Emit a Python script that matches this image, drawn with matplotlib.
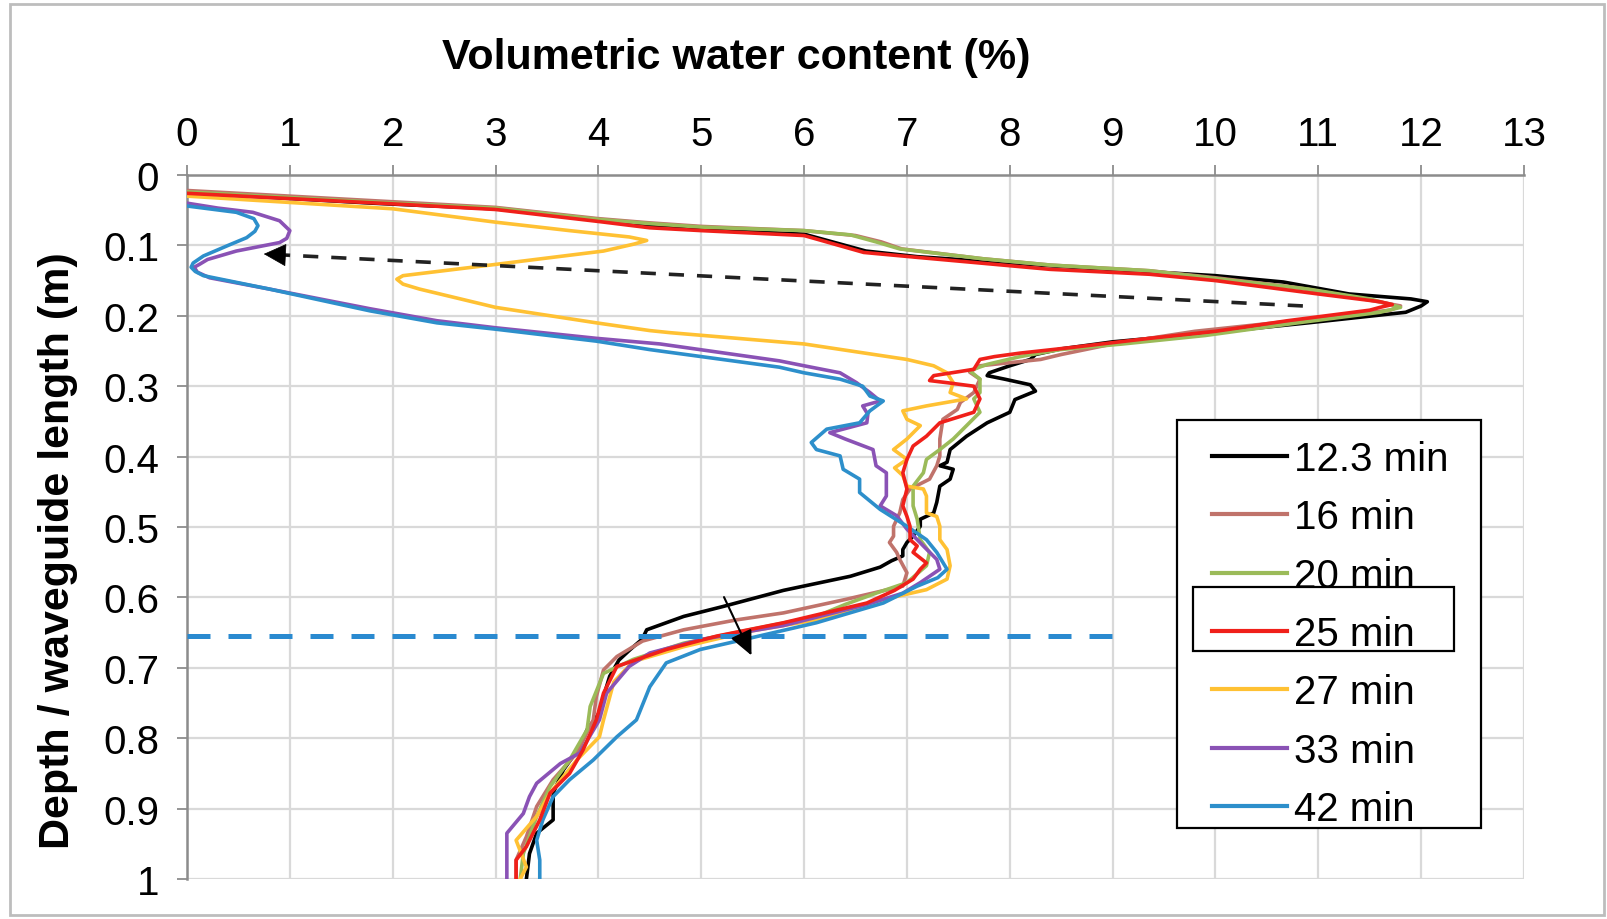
import matplotlib
matplotlib.use("Agg")
import matplotlib.pyplot as plt
from matplotlib.patches import Rectangle
from matplotlib.lines import Line2D

plt.rcParams['font.family'] = ['Liberation Sans', 'DejaVu Sans']

# ---- data: volumetric water content (%) versus depth / waveguide length (m) ----
series_labels = ["12.3 min", "16 min", "20 min", "25 min", "27 min", "33 min", "42 min"]
series_colors = ["#000000", "#C0736B", "#9BBB59", "#F0201A", "#FFC133", "#8A52B5", "#2D8FCB"]

depth_12 = [0.025, 0.04, 0.048, 0.064, 0.072, 0.077, 0.084, 0.108, 0.116, 0.129, 0.143, 0.152,
            0.169, 0.176, 0.180, 0.186, 0.195, 0.21, 0.225, 0.237, 0.247, 0.255, 0.262, 0.271,
            0.281, 0.285, 0.29, 0.298, 0.307, 0.319, 0.33, 0.337, 0.352, 0.371, 0.39, 0.408,
            0.413, 0.418, 0.432, 0.442, 0.465, 0.48, 0.489, 0.499, 0.513, 0.522, 0.532, 0.541,
            0.548, 0.557, 0.57, 0.59, 0.613, 0.627, 0.646, 0.652, 0.66, 0.674, 0.689, 0.712,
            0.741, 0.764, 0.788, 0.812, 0.845, 0.878, 0.916, 0.935, 0.964, 1.0]
vwc_12 = [0.0, 1.8, 3.0, 4.0, 4.5, 5.0, 6.0, 6.6, 7.1, 8.4, 10.0, 10.66,
          11.3, 11.9, 12.06, 12.0, 11.85, 10.9, 9.9, 9.0, 8.5, 8.25, 8.2, 8.0,
          7.8, 7.78, 7.95, 8.2, 8.25, 8.05, 8.02, 8.0, 7.78, 7.58, 7.42, 7.39,
          7.32, 7.45, 7.42, 7.32, 7.29, 7.26, 7.13, 7.13, 7.06, 7.0, 6.96, 6.96,
          6.85, 6.74, 6.45, 5.8, 5.21, 4.83, 4.47, 4.45, 4.42, 4.31, 4.2, 4.11,
          4.05, 4.01, 3.89, 3.82, 3.66, 3.56, 3.56, 3.40, 3.33, 3.30]

depth_16 = [0.022, 0.038, 0.046, 0.062, 0.068, 0.073, 0.079, 0.086, 0.095, 0.105, 0.119, 0.128,
            0.136, 0.146, 0.16, 0.175, 0.186, 0.192, 0.205, 0.222, 0.24, 0.255, 0.262, 0.271,
            0.28, 0.29, 0.309, 0.323, 0.333, 0.347, 0.375, 0.399, 0.413, 0.432, 0.446, 0.461,
            0.48, 0.499, 0.513, 0.522, 0.536, 0.546, 0.565, 0.584, 0.603, 0.622, 0.632, 0.646,
            0.662, 0.684, 0.703, 0.741, 0.774, 0.821, 0.859, 0.897, 0.94, 0.973, 1.0]
vwc_16 = [0.0, 2.0, 3.0, 4.0, 4.5, 5.0, 6.0, 6.5, 6.75, 6.95, 7.74, 8.4,
          9.36, 10.0, 10.8, 11.4, 11.8, 11.7, 10.9, 9.8, 9.0, 8.5, 8.3, 7.71,
          7.61, 7.71, 7.65, 7.52, 7.49, 7.35, 7.32, 7.32, 7.29, 7.22, 7.03, 6.96,
          6.93, 6.87, 6.87, 6.83, 6.9, 6.93, 7.0, 6.96, 6.4, 5.8, 5.34, 4.83,
          4.43, 4.18, 4.05, 3.98, 3.95, 3.79, 3.56, 3.40, 3.30, 3.20, 3.20]

depth_20 = [0.024, 0.04, 0.047, 0.063, 0.069, 0.074, 0.079, 0.085, 0.095, 0.105, 0.119, 0.128,
            0.136, 0.147, 0.162, 0.176, 0.188, 0.195, 0.21, 0.228, 0.24, 0.248, 0.258, 0.269,
            0.278, 0.29, 0.309, 0.318, 0.337, 0.356, 0.375, 0.39, 0.404, 0.423, 0.442, 0.47,
            0.489, 0.518, 0.536, 0.555, 0.579, 0.594, 0.61, 0.627, 0.646, 0.665, 0.688, 0.708,
            0.755, 0.788, 0.831, 0.869, 0.911, 0.964, 1.0]
vwc_20 = [0.0, 2.0, 3.0, 4.0, 4.5, 5.0, 6.0, 6.45, 6.7, 6.93, 7.74, 8.4,
          9.36, 10.0, 10.9, 11.5, 11.8, 11.6, 10.8, 9.9, 9.1, 8.49, 8.1, 7.78,
          7.61, 7.71, 7.71, 7.65, 7.71, 7.58, 7.45, 7.32, 7.19, 7.16, 7.06, 7.06,
          7.1, 7.13, 7.22, 7.19, 7.0, 6.7, 6.4, 6.12, 5.47, 4.83, 4.34, 4.05,
          3.92, 3.89, 3.72, 3.53, 3.40, 3.27, 3.24]

depth_25 = [0.026, 0.041, 0.049, 0.066, 0.075, 0.079, 0.086, 0.11, 0.117, 0.134, 0.141, 0.15,
            0.169, 0.18, 0.184, 0.188, 0.192, 0.207, 0.222, 0.232, 0.245, 0.253, 0.258, 0.262,
            0.276, 0.285, 0.292, 0.295, 0.30, 0.318, 0.337, 0.352, 0.371, 0.385, 0.404, 0.423,
            0.446, 0.47, 0.485, 0.499, 0.518, 0.527, 0.536, 0.551, 0.56, 0.574, 0.59, 0.608,
            0.636, 0.655, 0.674, 0.698, 0.736, 0.774, 0.817, 0.85, 0.878, 0.916, 0.954, 0.973, 1.0]
vwc_25 = [0.0, 2.0, 3.0, 4.0, 4.5, 5.0, 6.0, 6.58, 7.1, 8.39, 9.36, 10.0,
          11.0, 11.6, 11.72, 11.6, 11.5, 10.7, 10.0, 9.36, 8.6, 8.1, 7.85, 7.71,
          7.65, 7.26, 7.22, 7.39, 7.65, 7.71, 7.65, 7.32, 7.19, 7.06, 7.0, 6.96,
          7.0, 6.96, 7.0, 7.03, 7.03, 7.1, 7.06, 7.19, 7.13, 7.06, 6.88, 6.61,
          5.8, 5.15, 4.66, 4.18, 4.05, 3.98, 3.85, 3.72, 3.53, 3.43, 3.30, 3.20, 3.20]

depth_27 = [0.03, 0.048, 0.067, 0.079, 0.088, 0.093, 0.098, 0.108, 0.127, 0.143, 0.148, 0.155,
            0.162, 0.188, 0.21, 0.221, 0.224, 0.24, 0.262, 0.271, 0.281, 0.295, 0.309, 0.318,
            0.328, 0.335, 0.347, 0.356, 0.375, 0.39, 0.404, 0.416, 0.427, 0.442, 0.446, 0.456,
            0.48, 0.485, 0.499, 0.518, 0.532, 0.555, 0.574, 0.589, 0.603, 0.632, 0.648, 0.67,
            0.691, 0.72, 0.774, 0.798, 0.831, 0.878, 0.911, 0.945, 0.983, 1.0]
vwc_27 = [0.0, 2.0, 3.0, 3.72, 4.3, 4.47, 4.35, 4.05, 3.0, 2.1, 2.04, 2.1,
          2.26, 3.0, 3.98, 4.5, 4.7, 6.0, 7.0, 7.26, 7.39, 7.45, 7.42, 7.58,
          7.19, 6.96, 7.0, 7.13, 7.0, 6.87, 7.0, 6.88, 6.96, 7.0, 7.16, 7.19,
          7.19, 7.29, 7.32, 7.32, 7.39, 7.42, 7.39, 7.19, 6.77, 6.12, 5.47, 4.83,
          4.34, 4.15, 4.05, 4.01, 3.79, 3.53, 3.40, 3.20, 3.30, 3.24]

depth_33 = [0.04, 0.047, 0.053, 0.065, 0.079, 0.09, 0.096, 0.108, 0.12, 0.127, 0.131, 0.138,
            0.146, 0.162, 0.19, 0.207, 0.217, 0.232, 0.24, 0.264, 0.271, 0.281, 0.295, 0.309,
            0.321, 0.328, 0.34, 0.352, 0.366, 0.375, 0.39, 0.413, 0.423, 0.456, 0.47, 0.484,
            0.503, 0.527, 0.546, 0.56, 0.579, 0.594, 0.61, 0.64, 0.66, 0.679, 0.698, 0.736,
            0.774, 0.821, 0.836, 0.864, 0.883, 0.907, 0.935, 0.964, 1.0]
vwc_33 = [0.0, 0.3, 0.64, 0.9, 1.0, 0.97, 0.9, 0.48, 0.2, 0.12, 0.07, 0.1,
          0.22, 0.8, 1.78, 2.43, 3.0, 3.98, 4.6, 5.76, 6.0, 6.35, 6.51, 6.64,
          6.74, 6.57, 6.62, 6.61, 6.25, 6.4, 6.67, 6.70, 6.80, 6.80, 6.74, 6.90,
          7.0, 7.16, 7.29, 7.32, 7.13, 6.96, 6.61, 5.8, 4.99, 4.5, 4.3, 4.08,
          4.01, 3.82, 3.63, 3.40, 3.33, 3.27, 3.11, 3.11, 3.11]

depth_42 = [0.044, 0.053, 0.062, 0.072, 0.08, 0.089, 0.1, 0.115, 0.125, 0.131, 0.137, 0.143,
            0.162, 0.193, 0.21, 0.219, 0.236, 0.248, 0.252, 0.273, 0.281, 0.29, 0.30, 0.314,
            0.321, 0.335, 0.352, 0.361, 0.38, 0.39, 0.399, 0.418, 0.432, 0.451, 0.475, 0.499,
            0.518, 0.536, 0.56, 0.572, 0.584, 0.608, 0.636, 0.658, 0.674, 0.693, 0.727, 0.774,
            0.798, 0.831, 0.859, 0.883, 0.916, 0.945, 0.973, 1.0]
vwc_42 = [0.0, 0.48, 0.65, 0.69, 0.66, 0.58, 0.4, 0.16, 0.06, 0.04, 0.08, 0.16,
          0.8, 1.78, 2.43, 3.0, 3.98, 4.5, 4.7, 5.76, 6.0, 6.35, 6.57, 6.64,
          6.77, 6.64, 6.54, 6.22, 6.07, 6.12, 6.35, 6.38, 6.54, 6.54, 6.74, 7.0,
          7.19, 7.29, 7.39, 7.3, 7.1, 6.77, 6.12, 5.47, 4.99, 4.66, 4.50, 4.37,
          4.18, 3.95, 3.72, 3.56, 3.46, 3.40, 3.43, 3.43]

all_depths = [depth_12, depth_16, depth_20, depth_25, depth_27, depth_33, depth_42]
all_vwc = [vwc_12, vwc_16, vwc_20, vwc_25, vwc_27, vwc_33, vwc_42]

x_ticks = list(range(0, 14))
y_ticks = [0, 0.1, 0.2, 0.3, 0.4, 0.5, 0.6, 0.7, 0.8, 0.9, 1]
y_ticklabels = ["0", "0.1", "0.2", "0.3", "0.4", "0.5", "0.6", "0.7", "0.8", "0.9", "1"]

# annotation geometry (data units)
peak_arrow_start = (10.85, 0.186)
peak_arrow_end = (0.72, 0.112)
front_depth = 0.655
front_x_end = 9.0
front_arrow_start = (5.21, 0.596)
front_arrow_end = (5.50, 0.686)

# ---- figure ----
W, H = 1608, 920
fig = plt.figure(figsize=(W / 100, H / 100), dpi=100)
ax = fig.add_axes([187 / W, 1 - 880 / H, (1524 - 187) / W, (880 - 176) / H])

grid_c = "#D9D9D9"
axis_c = "#8C8C8C"

ax.set_xlim(0, 13)
ax.set_ylim(1, 0)
ax.set_xticks(x_ticks)
ax.set_yticks(y_ticks)
ax.set_yticklabels(y_ticklabels)
ax.xaxis.tick_top()
ax.grid(True, color=grid_c, linewidth=1.6, zorder=0)
ax.set_axisbelow(True)
for side in ("right", "bottom"):
    ax.spines[side].set_visible(False)
for side in ("left", "top"):
    ax.spines[side].set_color(axis_c)
    ax.spines[side].set_linewidth(1.8)
ax.tick_params(axis="both", which="major", direction="out", length=7, width=1.3,
               color=axis_c, labelsize=29, labelcolor="black")
ax.tick_params(axis="x", pad=9)
ax.tick_params(axis="y", pad=13)

z_order = [3, 3, 3, 6, 4, 4, 5]
handles = []
for d, v, lab, col, z in zip(all_depths, all_vwc, series_labels, series_colors, z_order):
    ax.plot(v, d, color=col, linewidth=2.6, zorder=z, solid_joinstyle="round")
    handles.append(Line2D([0], [0], color=col, linewidth=3.0))

# dashed arrow tracing the retreat of the wetting peak
ax.plot([peak_arrow_start[0], peak_arrow_end[0] + 0.2],
        [peak_arrow_start[1], peak_arrow_end[1] + 0.0015],
        color="#222222", linewidth=2.6, linestyle=(0, (4.2, 3.6)), zorder=7)
ax.annotate("", xy=peak_arrow_end, xytext=(peak_arrow_end[0] + 0.3, peak_arrow_end[1] + 0.0022),
            arrowprops=dict(arrowstyle="-|>,head_length=0.75,head_width=0.38",
                            color="black", lw=0.5, mutation_scale=20), zorder=8)

# wetting front depth
ax.plot([0, front_x_end], [front_depth, front_depth], color="#2A8AD0",
        linewidth=3.6, linestyle=(0, (4.6, 3.6)), zorder=7)
ax.annotate("", xy=front_arrow_end, xytext=front_arrow_start,
            arrowprops=dict(arrowstyle="-|>,head_length=0.75,head_width=0.35",
                            color="black", lw=1.5, mutation_scale=20), zorder=8)

# axis titles
fig.text(736 / W, 1 - 58 / H, "Volumetric water content (%)", ha="center", va="center",
         fontsize=31, fontweight="bold")
fig.text(58 / W, 1 - 551 / H, "Depth / waveguide length (m)", ha="center", va="center",
         rotation=90, fontsize=31, fontweight="bold")

# legend frame, placed inside the axes so it sits under the legend entries
ax.add_patch(Rectangle((1177 / W, 1 - 829 / H), (1481 - 1177) / W, (829 - 421) / H,
                       transform=fig.transFigure, facecolor="white", edgecolor="black",
                       linewidth=1.6, zorder=9, clip_on=False))

# legend entries
leg = ax.legend(handles, series_labels, loc="upper left",
                bbox_to_anchor=(1212 / W, 1 - 441 / H), bbox_transform=fig.transFigure,
                fontsize=29, frameon=False, handlelength=1.85,
                handletextpad=0.18, labelspacing=0.505, borderpad=0, borderaxespad=0)
leg.set_zorder(10)

# box emphasising the 25 min profile
fig.patches.append(Rectangle((1193 / W, 1 - 652 / H), (1454 - 1193) / W, (652 - 588) / H,
                             transform=fig.transFigure, fill=False, edgecolor="black",
                             linewidth=1.6, zorder=20))

# outer chart frame
fig.patches.append(Rectangle((10 / W, 4 / H), (1604 - 10) / W, (915 - 4) / H,
                             transform=fig.transFigure, fill=False, edgecolor="#BDBDBD",
                             linewidth=2.0, zorder=0))

fig.savefig("out.png", dpi=100)
